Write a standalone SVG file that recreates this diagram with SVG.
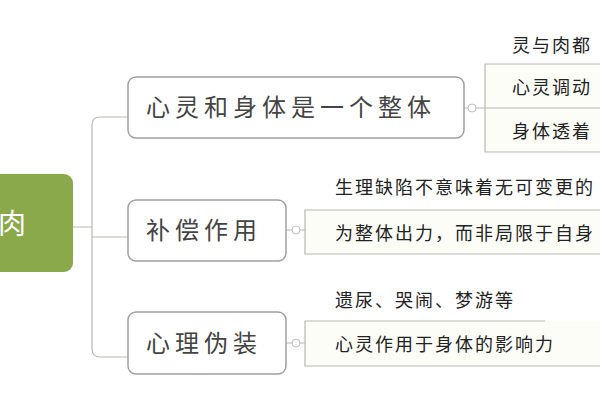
<svg xmlns="http://www.w3.org/2000/svg" width="600" height="400" viewBox="0 0 600 400">
<style>
.n{fill:#fff;stroke:#a0a0a0;stroke-width:1.5}
.t{font-family:"Noto Sans CJK SC",sans-serif;fill:#444;font-size:24px;letter-spacing:5px}
.s{font-family:"Noto Sans CJK SC",sans-serif;fill:#222;font-size:18px;letter-spacing:2px}
.c{fill:none;stroke:#b8b8b0;stroke-width:1.2}
.f{fill:#fdfdf8;stroke:none}
.k{fill:#fff;stroke:#c0c0c0;stroke-width:1}
</style>
<rect width="600" height="400" fill="#fff"/>
<g id="connectors">
<path class="c" d="M73 227 H92 M128 117 H100 Q92 117 92 125 V349 Q92 357 100 357 H128 M92 237 H128"/>
<path class="c" d="M464 108 H600 M286 230 H305 M286 343 H305"/>
<circle class="k" cx="472" cy="108" r="4"/>
<circle class="k" cx="296" cy="230" r="4"/>
<circle class="k" cx="296" cy="343" r="4"/>
</g>
<g id="root"><rect x="-12" y="174" width="85" height="98" rx="9" fill="#8aa94a"/><text x="-2" y="234" font-family="Noto Sans CJK SC,sans-serif" font-size="28" fill="#fff">肉</text></g>
<g id="n1"><rect class="n" x="128" y="77" width="336" height="61" rx="8"/><text class="t" x="146" y="116">心灵和身体是一个整体</text></g>
<g id="n2"><rect class="n" x="128" y="200" width="158" height="61" rx="8"/><text class="t" x="146" y="239">补偿作用</text></g>
<g id="n3"><rect class="n" x="128" y="312" width="158" height="62" rx="8"/><text class="t" x="146" y="352">心理伪装</text></g>
<g id="l1">
<text class="s" x="512" y="52">灵与肉都</text>
<rect class="f" x="485" y="64" width="120" height="88"/>
<path class="c" d="M610 64 H485 V152 H610 M485 108 H600"/>
<text class="s" x="512" y="94">心灵调动</text>
<text class="s" x="512" y="138">身体透着</text>
</g>
<g id="l2">
<text class="s" x="335" y="194">生理缺陷不意味着无可变更的</text>
<rect class="f" x="305" y="210" width="300" height="44"/>
<path class="c" d="M610 210 H305 V254 H610"/>
<text class="s" x="335" y="240">为整体出力，而非局限于自身</text>
</g>
<g id="l3">
<text class="s" x="335" y="307">遗尿、哭闹、梦游等</text>
<rect class="f" x="305" y="321" width="300" height="45"/>
<path class="c" d="M545 321 H305 V366 H610"/>
<text class="s" x="335" y="351">心灵作用于身体的影响力</text>
</g>
</svg>
